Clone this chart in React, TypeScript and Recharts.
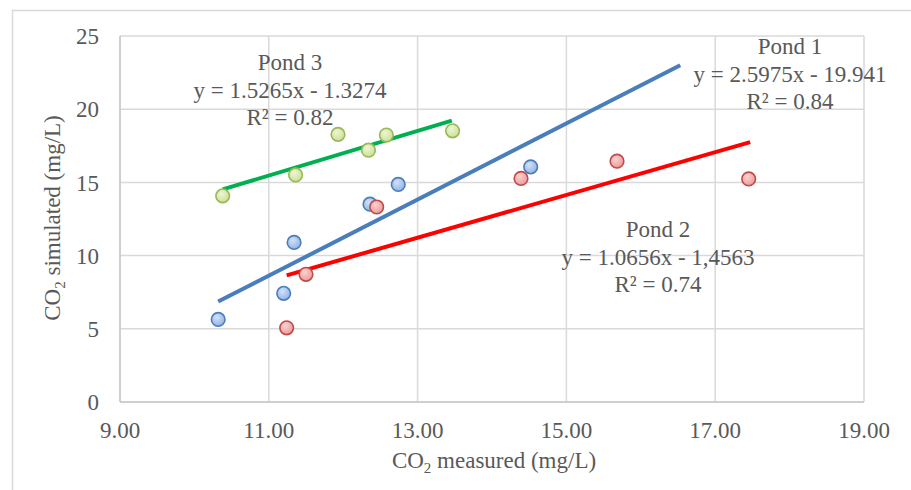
import React from "react"
import {
  CartesianGrid,
  ReferenceLine,
  Scatter,
  ScatterChart,
  XAxis,
  YAxis,
} from "recharts"

// measured (x) vs simulated (y) CO2, mg/L
const pond1X = [10.32, 11.2, 11.34, 12.36, 12.74, 14.52]
const pond1Y = [5.64, 7.42, 10.9, 13.51, 14.86, 16.06]
const pond2X = [11.24, 11.5, 12.45, 14.39, 15.68, 17.45]
const pond2Y = [5.07, 8.72, 13.32, 15.27, 16.45, 15.24]
const pond3X = [10.38, 11.36, 11.93, 12.34, 12.58, 13.47]
const pond3Y = [14.08, 15.51, 18.28, 17.2, 18.23, 18.52]

// trend line end points [x, y]
const trend1 = [[10.32, 6.86], [16.53, 23.0]]
const trend2 = [[11.24, 8.65], [17.47, 17.75]]
const trend3 = [[10.38, 14.52], [13.46, 19.22]]

const xTicks = [9, 11, 13, 15, 17, 19]
const yTicks = [0, 5, 10, 15, 20, 25]

const FONT = "'Liberation Serif', 'Times New Roman', serif"
const TXT = "#595959"

const toPoints = (xs: number[], ys: number[]) =>
  xs.map((x, i) => ({ x, y: ys[i] }))

const marker = (grad: string, stroke: string) => (props: any) => (
  <circle
    cx={props.cx}
    cy={props.cy}
    r={6.8}
    fill={`url(#${grad})`}
    stroke={stroke}
    strokeWidth={1.6}
  />
)

const XTick = (props: any) => (
  <text
    x={props.x}
    y={props.y}
    dy="0.71em"
    textAnchor="middle"
    fontFamily={FONT}
    fontSize={23}
    fill={TXT}
  >
    {Number(props.payload.value).toFixed(2)}
  </text>
)

const YTick = (props: any) => (
  <text
    x={props.x}
    y={props.y}
    dy="0.355em"
    textAnchor="end"
    fontFamily={FONT}
    fontSize={23}
    fill={TXT}
  >
    {props.payload.value}
  </text>
)

function Note({ x, y, lines }: { x: number; y: number; lines: string[] }) {
  return (
    <text x={x} y={y} textAnchor="middle" fontFamily={FONT} fontSize={23} fill={TXT}>
      {lines.map((l, i) => (
        <tspan key={i} x={x} dy={i === 0 ? 0 : 27.5}>
          {l}
        </tspan>
      ))}
    </text>
  )
}

export default function App() {
  const seg = (t: number[][]) => [
    { x: t[0][0], y: t[0][1] },
    { x: t[1][0], y: t[1][1] },
  ]
  return (
    <div
      style={{
        position: "absolute",
        left: 0,
        top: 0,
        width: 911,
        height: 490,
        background: "#fff",
        fontFamily: FONT,
      }}
    >
      <svg width={0} height={0} style={{ position: "absolute" }}>
        <defs>
          <radialGradient id="gBlue" cx="40%" cy="35%" r="70%">
            <stop offset="0%" stopColor="#d3e1f6" />
            <stop offset="100%" stopColor="#8eb0e4" />
          </radialGradient>
          <radialGradient id="gRed" cx="40%" cy="35%" r="70%">
            <stop offset="0%" stopColor="#fbd0d0" />
            <stop offset="100%" stopColor="#ec9898" />
          </radialGradient>
          <radialGradient id="gGreen" cx="40%" cy="35%" r="70%">
            <stop offset="0%" stopColor="#eef4d6" />
            <stop offset="100%" stopColor="#cadf92" />
          </radialGradient>
        </defs>
      </svg>
      <ScatterChart
        width={911}
        height={490}
        margin={{ top: 36, right: 47, left: 0, bottom: 0 }}
      >
        <CartesianGrid stroke="#d9d9d9" strokeWidth={1.5} />
        <XAxis
          type="number"
          dataKey="x"
          domain={[9, 19]}
          ticks={xTicks}
          tick={XTick}
          tickLine={false}
          tickMargin={14}
          axisLine={{ stroke: "#c8c8c8", strokeWidth: 1.5 }}
          height={88}
          allowDataOverflow
        />
        <YAxis
          type="number"
          dataKey="y"
          domain={[0, 25]}
          ticks={yTicks}
          tick={YTick}
          tickLine={false}
          tickMargin={15}
          axisLine={{ stroke: "#c8c8c8", strokeWidth: 1.5 }}
          width={120}
          allowDataOverflow
        />
        <Scatter data={toPoints(pond1X, pond1Y)} shape={marker("gBlue", "#4a7ebb")} isAnimationActive={false} />
        <Scatter data={toPoints(pond2X, pond2Y)} shape={marker("gRed", "#be4b48")} isAnimationActive={false} />
        <Scatter data={toPoints(pond3X, pond3Y)} shape={marker("gGreen", "#98b954")} isAnimationActive={false} />
        <ReferenceLine segment={seg(trend1)} stroke="#4a7ebb" strokeWidth={4} />
        <ReferenceLine segment={seg(trend2)} stroke="#ff0000" strokeWidth={4} />
        <ReferenceLine segment={seg(trend3)} stroke="#00b050" strokeWidth={4} />
      </ScatterChart>
      <svg
        width={911}
        height={490}
        style={{ position: "absolute", left: 0, top: 0, pointerEvents: "none" }}
      >
        <rect x={12.5} y={10.5} width={920} height={500} fill="none" stroke="#d9d9d9" strokeWidth={1.5} />
        <Note x={290} y={70} lines={["Pond 3", "y = 1.5265x - 1.3274", "R² = 0.82"]} />
        <Note x={790} y={54} lines={["Pond 1", "y = 2.5975x - 19.941", "R² = 0.84"]} />
        <Note x={658} y={237} lines={["Pond 2", "y = 1.0656x - 1,4563", "R² = 0.74"]} />
        <text x={494} y={468} textAnchor="middle" fontFamily={FONT} fontSize={23} fill={TXT}>
          CO<tspan fontSize={15} dy={5}>2</tspan>
          <tspan dy={-5}> measured (mg/L)</tspan>
        </text>
        <text
          transform="translate(60,218) rotate(-90)"
          textAnchor="middle"
          fontFamily={FONT}
          fontSize={23}
          fill={TXT}
        >
          CO<tspan fontSize={15} dy={5}>2</tspan>
          <tspan dy={-5}> simulated (mg/L)</tspan>
        </text>
      </svg>
    </div>
  )
}
